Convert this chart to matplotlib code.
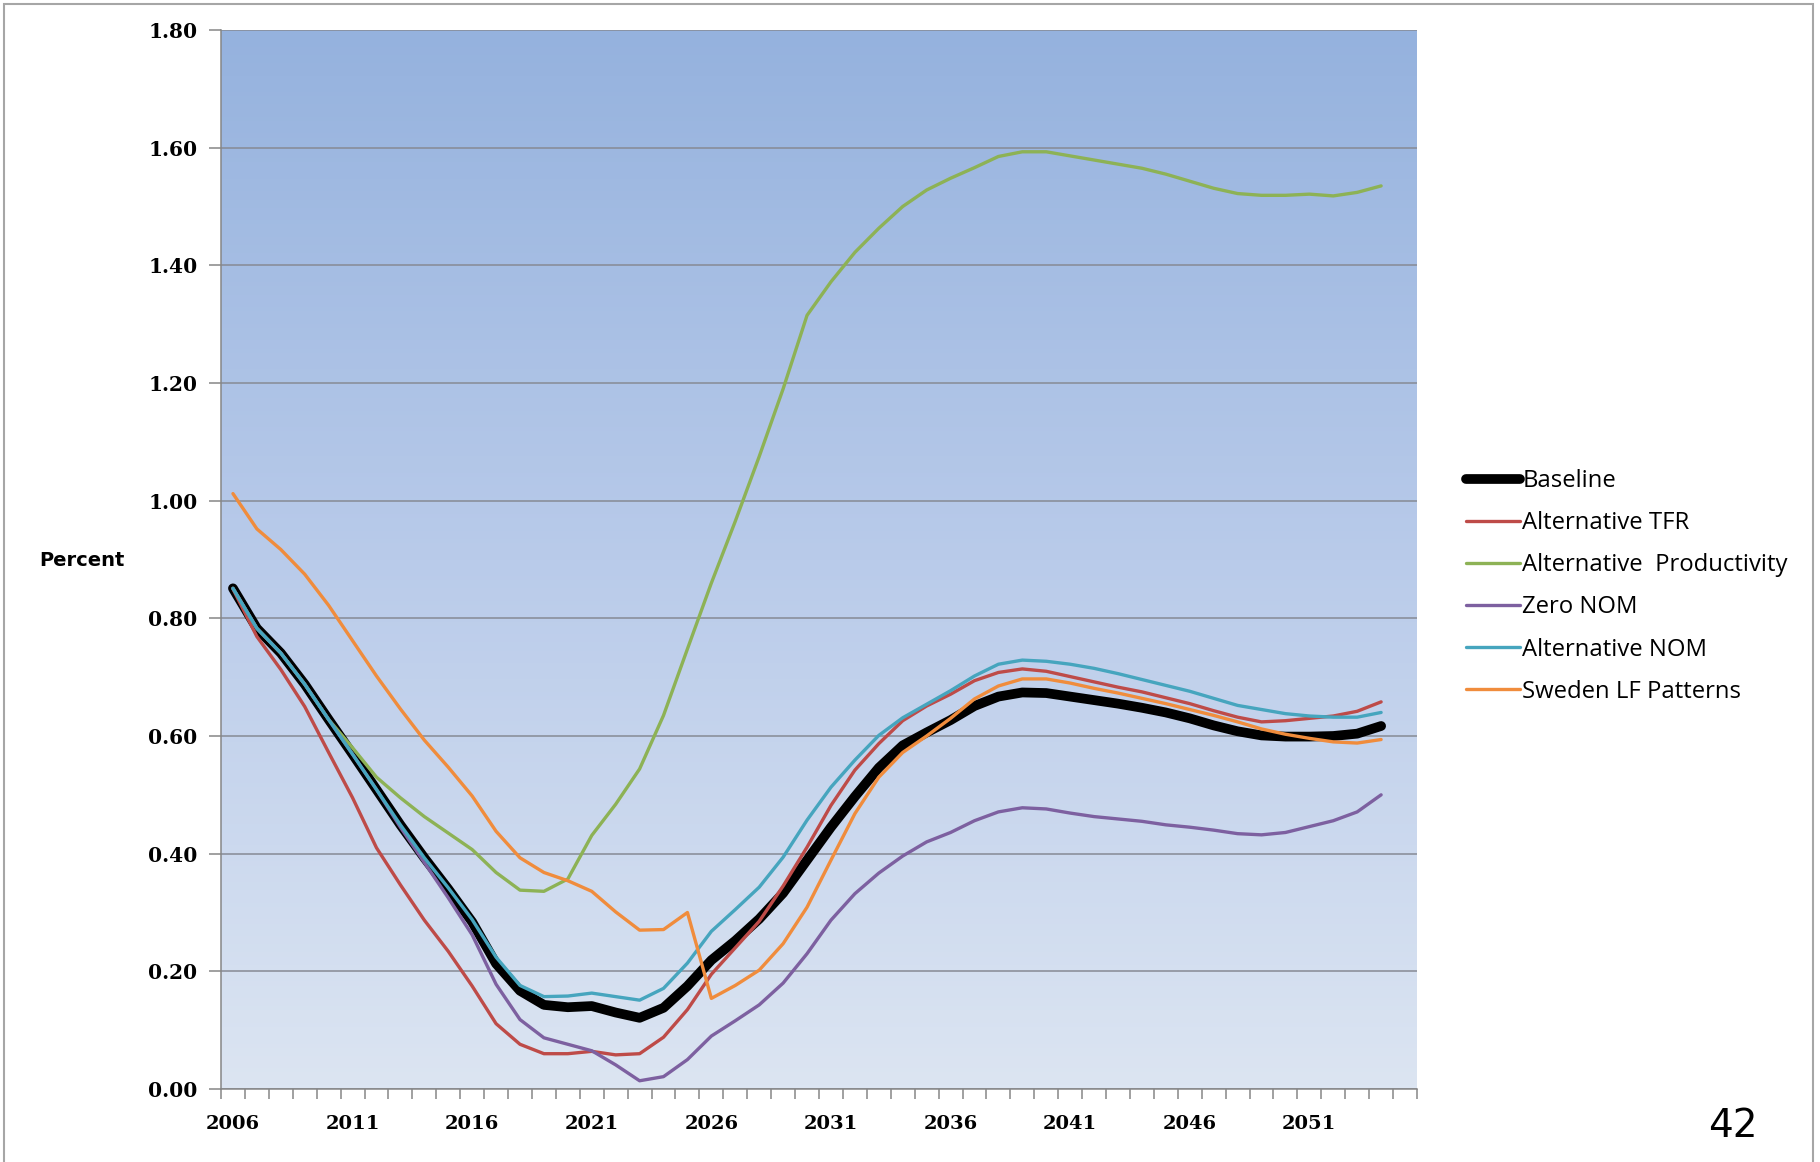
import matplotlib.pyplot as plt
import numpy as np
from matplotlib.colors import LinearSegmentedColormap
from matplotlib.patches import Rectangle

# annual values, 2006-2054 (percent)
years = list(range(2006, 2055))

baseline = [0.851, 0.783, 0.741, 0.688, 0.628, 0.569, 0.509, 0.449, 0.393, 0.340,
            0.284, 0.213, 0.167, 0.143, 0.139, 0.141, 0.130, 0.121, 0.138, 0.175,
            0.219, 0.252, 0.289, 0.333, 0.389, 0.445, 0.497, 0.546, 0.584, 0.606,
            0.627, 0.651, 0.667, 0.674, 0.673, 0.667, 0.661, 0.655, 0.648, 0.640,
            0.630, 0.618, 0.608, 0.601, 0.599, 0.599, 0.600, 0.604, 0.617]

alt_tfr = [0.850, 0.769, 0.713, 0.650, 0.572, 0.495, 0.410, 0.347, 0.287, 0.234,
           0.175, 0.111, 0.076, 0.060, 0.060, 0.064, 0.058, 0.060, 0.088, 0.135,
           0.195, 0.240, 0.285, 0.345, 0.411, 0.482, 0.542, 0.587, 0.626, 0.651,
           0.671, 0.694, 0.708, 0.714, 0.710, 0.701, 0.692, 0.683, 0.675, 0.665,
           0.655, 0.643, 0.632, 0.624, 0.626, 0.630, 0.634, 0.642, 0.658]

alt_productivity = [0.851, 0.783, 0.741, 0.688, 0.628, 0.580, 0.530, 0.495, 0.463, 0.435,
                    0.407, 0.368, 0.338, 0.336, 0.357, 0.431, 0.484, 0.544, 0.635, 0.748,
                    0.860, 0.965, 1.075, 1.190, 1.315, 1.372, 1.422, 1.463, 1.500, 1.528,
                    1.548, 1.566, 1.585, 1.593, 1.593, 1.586, 1.579, 1.572, 1.565, 1.555,
                    1.543, 1.531, 1.522, 1.519, 1.519, 1.521, 1.518, 1.524, 1.535]

zero_nom = [0.851, 0.783, 0.741, 0.688, 0.628, 0.569, 0.509, 0.445, 0.385, 0.325,
            0.262, 0.178, 0.118, 0.087, 0.076, 0.065, 0.041, 0.014, 0.021, 0.050,
            0.090, 0.116, 0.143, 0.180, 0.230, 0.287, 0.332, 0.367, 0.396, 0.420,
            0.436, 0.456, 0.471, 0.478, 0.476, 0.469, 0.463, 0.459, 0.455, 0.449,
            0.445, 0.440, 0.434, 0.432, 0.436, 0.446, 0.456, 0.471, 0.500]

alt_nom = [0.851, 0.783, 0.741, 0.688, 0.628, 0.569, 0.509, 0.449, 0.393, 0.342,
           0.288, 0.224, 0.176, 0.157, 0.158, 0.163, 0.157, 0.151, 0.171, 0.214,
           0.268, 0.305, 0.343, 0.394, 0.457, 0.513, 0.559, 0.601, 0.631, 0.654,
           0.677, 0.702, 0.722, 0.729, 0.727, 0.722, 0.715, 0.706, 0.696, 0.686,
           0.676, 0.664, 0.652, 0.645, 0.638, 0.634, 0.632, 0.632, 0.640]

sweden_lf = [1.012, 0.952, 0.917, 0.875, 0.822, 0.762, 0.702, 0.646, 0.593, 0.547,
             0.498, 0.438, 0.393, 0.368, 0.354, 0.336, 0.301, 0.270, 0.271, 0.300,
             0.154, 0.176, 0.202, 0.247, 0.309, 0.389, 0.468, 0.530, 0.572, 0.600,
             0.630, 0.663, 0.685, 0.697, 0.697, 0.690, 0.681, 0.673, 0.664, 0.655,
             0.645, 0.635, 0.624, 0.612, 0.603, 0.596, 0.590, 0.588, 0.594]

series_names = ["Baseline", "Alternative TFR", "Alternative  Productivity",
                "Zero NOM", "Alternative NOM", "Sweden LF Patterns"]
series_values = [baseline, alt_tfr, alt_productivity, zero_nom, alt_nom, sweden_lf]
series_colors = ["#000000", "#BE4B48", "#8DB255", "#7D60A0", "#46A5BE", "#F08C3C"]
series_widths = [7.0, 2.4, 2.4, 2.4, 2.4, 2.4]

n_cat = 50  # category axis runs to 2055
label_step = 5

W, H = 1820, 1162
fig = plt.figure(figsize=(W / 100, H / 100), dpi=100)
ax = fig.add_axes([221 / W, 1 - 1089 / H, (1417 - 221) / W, (1089 - 30) / H])
ax.patch.set_visible(False)

# vertical blue gradient behind the plot
grad = np.linspace(0, 1, 256).reshape(-1, 1)
cmap = LinearSegmentedColormap.from_list("bg", ["#DCE5F2", "#B9CBEA", "#95B2DE"])
ax.imshow(grad, extent=[0, 1, 0, 1], transform=ax.transAxes, origin="lower",
          aspect="auto", cmap=cmap, zorder=0)

x = np.arange(len(years))
handles = []
for name, vals, col, lw in zip(series_names, series_values, series_colors, series_widths):
    h, = ax.plot(x, vals, color=col, lw=lw, label=name, zorder=3,
                 solid_joinstyle="round", solid_capstyle="round")
    handles.append(h)

ax.set_xlim(-0.5, n_cat - 0.5)
ax.set_ylim(0, 1.8)

tick_font = dict(fontfamily="DejaVu Serif", fontweight="bold")

yt = np.round(np.arange(0, 1.81, 0.2), 2)
ax.set_yticks(yt)
ax.set_yticklabels([f"{v:.2f}" for v in yt], fontsize=14.5, **tick_font)
ax.yaxis.grid(True, color="#868A94", lw=1.1)
ax.set_axisbelow(True)
ax.tick_params(axis="y", length=9, width=1.1, color="#868686", pad=8)

# ticks on category boundaries, labels on every fifth category
ax.set_xticks(np.arange(-0.5, n_cat, 1))
ax.set_xticklabels([])
ax.tick_params(axis="x", which="major", length=7, width=1.1, color="#868686")
lab_pos = np.arange(0, n_cat - 1, label_step)
ax.set_xticks(lab_pos, minor=True)
ax.set_xticklabels([str(years[0] + int(p)) for p in lab_pos], minor=True,
                   fontsize=14, **tick_font)
ax.tick_params(axis="x", which="minor", length=0, pad=19)

for s in ["top", "right"]:
    ax.spines[s].set_visible(False)
for s in ["left", "bottom"]:
    ax.spines[s].set_color("#868686")
    ax.spines[s].set_linewidth(1.1)

fig.text(82 / W, 1 - 561 / H, "Percent", ha="center", va="center",
         fontweight="bold", fontsize=14, fontfamily="DejaVu Sans")

leg = fig.legend(handles, series_names, loc="upper left",
                 bbox_to_anchor=(1466 / W, 1 - 469 / H), frameon=False,
                 prop={"family": "Open Sans", "size": 17.2}, handlelength=2.25,
                 handletextpad=0.1, labelspacing=0.76, borderaxespad=0, borderpad=0)

fig.text(1733 / W, 1 - 1126 / H, "42", ha="center", va="center", fontsize=28,
         fontfamily=["Liberation Sans Narrow", "DejaVu Sans"])

# slide frame
fig.patches.append(Rectangle((4 / W, -0.01), (1813 - 4) / W, 1.01 - 4 / H,
                             transform=fig.transFigure, fill=False,
                             edgecolor="#A6A6A6", lw=1.5))

fig.savefig("out.png", dpi=100)
